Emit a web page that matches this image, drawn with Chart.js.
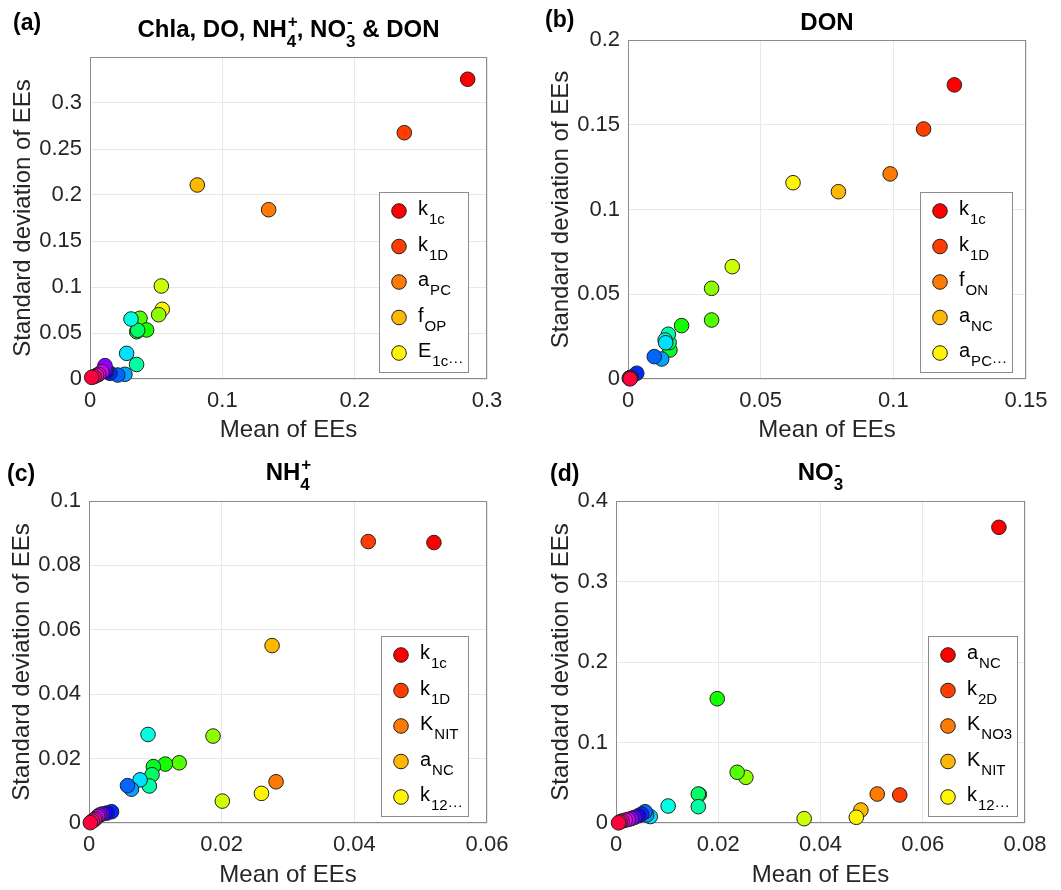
<!DOCTYPE html>
<html>
<head>
<meta charset="utf-8">
<script src="https://cdn.jsdelivr.net/npm/chart.js@4.4.1/dist/chart.umd.min.js"></script>
<style>
  body { margin: 0; background: #fff; }
  #wrap { position: relative; width: 1061px; height: 890px; overflow: hidden; }
  #wrap canvas { position: absolute; }
</style>
</head>
<body>
<div id="wrap"></div>
<script>
// ---- data, sorted by rank: index 0 = most influential ----
const meanA = [0.2854, 0.2375, 0.1350, 0.0811, 0.0546, 0.0539, 0.0519, 0.0378, 0.0428, 0.0353, 0.0360, 0.0352,
               0.0310, 0.0277, 0.0264, 0.0209, 0.0151, 0.0125, 0.0118, 0.0113, 0.0090, 0.0065, 0.0050, 0.0030, 0.0013];
const sdA   = [0.3258, 0.2677, 0.1840, 0.2109, 0.0757, 0.1011, 0.0699, 0.0660, 0.0533, 0.0514, 0.0530, 0.0158,
               0.0652, 0.0279, 0.0051, 0.0043, 0.0062, 0.0080, 0.0110, 0.0145, 0.0080, 0.0050, 0.0040, 0.0025, 0.0018];

const meanB = [0.1230, 0.1114, 0.0988, 0.0793, 0.0622, 0.0393, 0.0315, 0.0315, 0.0202, 0.0158, 0.0155, 0.0152,
               0.0140, 0.0142, 0.0127, 0.0099, 0.0033, 0.0012, 0.0010, 0.0009, 0.0008, 0.0007, 0.0006, 0.0005, 0.0008];
const sdB   = [0.1735, 0.1475, 0.1210, 0.1105, 0.1158, 0.0663, 0.0535, 0.0348, 0.0315, 0.0171, 0.0215, 0.0264,
               0.0230, 0.0214, 0.0118, 0.0132, 0.0034, 0.0010, 0.0009, 0.0008, 0.0007, 0.0006, 0.0005, 0.0004, 0.0001];

const meanC = [0.0520, 0.0421, 0.0282, 0.0276, 0.0260, 0.0201, 0.0187, 0.0136, 0.0115, 0.0097, 0.0095, 0.0091,
               0.0089, 0.0077, 0.0064, 0.0058, 0.0034, 0.0027, 0.0020, 0.0016, 0.0013, 0.0010, 0.0008, 0.0005, 0.0002];
const sdC   = [0.0871, 0.0874, 0.0128, 0.0551, 0.0092, 0.0068, 0.0270, 0.0187, 0.0183, 0.0175, 0.0150, 0.0115,
               0.0275, 0.0134, 0.0105, 0.0116, 0.0035, 0.0031, 0.0028, 0.0025, 0.0020, 0.0014, 0.0010, 0.0006, 0.0001];

const meanD = [0.0749, 0.0555, 0.0511, 0.0479, 0.0470, 0.0368, 0.0254, 0.0237, 0.0198, 0.0163, 0.0161, 0.0161,
               0.0102, 0.0067, 0.0060, 0.0057, 0.0050, 0.0044, 0.0036, 0.0030, 0.0024, 0.0018, 0.0012, 0.0008, 0.0005];
const sdD   = [0.3673, 0.0348, 0.0360, 0.0161, 0.0071, 0.0054, 0.0567, 0.0630, 0.1544, 0.0355, 0.0360, 0.0203,
               0.0211, 0.0080, 0.0100, 0.0140, 0.0110, 0.0090, 0.0070, 0.0055, 0.0045, 0.0035, 0.0025, 0.0015, 0.0002];

// tick labels
const xTicksA = [0, 0.1, 0.2, 0.3];
const yTicksA = [0, 0.05, 0.1, 0.15, 0.2, 0.25, 0.3];
const xTicksB = [0, 0.05, 0.1, 0.15];
const yTicksB = [0, 0.05, 0.1, 0.15, 0.2];
const xTicksC = [0, 0.02, 0.04, 0.06];
const yTicksC = [0, 0.02, 0.04, 0.06, 0.08, 0.1];
const xTicksD = [0, 0.02, 0.04, 0.06, 0.08];
const yTicksD = [0, 0.1, 0.2, 0.3, 0.4];

// legend entries (top 5 parameters); last one is truncated in the original
const legendA = ['k_1c', 'k_1D', 'a_PC', 'f_OP', 'E_1c'];
const legendB = ['k_1c', 'k_1D', 'f_ON', 'a_NC', 'a_PC'];
const legendC = ['k_1c', 'k_1D', 'K_NIT', 'a_NC', 'k_12'];
const legendD = ['a_NC', 'k_2D', 'K_NO3', 'K_NIT', 'k_12'];

const titleA = 'Chla, DO, NH_4^+, NO_3^- & DON';
const titleB = 'DON';
const titleC = 'NH_4^+';
const titleD = 'NO_3^-';

const xLabel = 'Mean of EEs';
const yLabel = 'Standard deviation of EEs';
const N_COLORS = 25;

// ---- layout ----
const FONT = "'Liberation Sans', Arial, Helvetica, sans-serif";
const INK = '#262626';
const panels = [
  { tag: '(a)', title: titleA, x: meanA, y: sdA, xt: xTicksA, yt: yTicksA, legend: legendA,
    left: 0, top: 0, w: 530, h: 445, area: { l: 90, r: 487, t: 57, b: 379 }, xMax: 0.3, yMax: 0.35,
    yTitlePad: 9, titleY: 37, tagX: 13, tagY: 30, legInset: 19 },
  { tag: '(b)', title: titleB, x: meanB, y: sdB, xt: xTicksB, yt: yTicksB, legend: legendB,
    left: 530, top: 0, w: 531, h: 445, area: { l: 98, r: 496, t: 40, b: 379 }, xMax: 0.15, yMax: 0.2,
    yTitlePad: 17, titleY: 30, tagX: 15, tagY: 27, legInset: 14 },
  { tag: '(c)', title: titleC, x: meanC, y: sdC, xt: xTicksC, yt: yTicksC, legend: legendC,
    left: 0, top: 440, w: 530, h: 450, area: { l: 89, r: 487, t: 61, b: 383 }, xMax: 0.06, yMax: 0.1,
    yTitlePad: 8, titleY: 40, tagX: 7, tagY: 41, legInset: 19 },
  { tag: '(d)', title: titleD, x: meanD, y: sdD, xt: xTicksD, yt: yTicksD, legend: legendD,
    left: 530, top: 440, w: 531, h: 450, area: { l: 86, r: 495, t: 61, b: 383 }, xMax: 0.08, yMax: 0.4,
    yTitlePad: 17, titleY: 40, tagX: 20, tagY: 41, legInset: 8 }
];

// MATLAB-style hsv colormap
function hsv(i, n) {
  const h = i / n * 6;
  const k = Math.floor(h), f = h - k;
  const rgb = [[1, f, 0], [1 - f, 1, 0], [0, 1, f], [0, 1 - f, 1], [f, 0, 1], [1, 0, 1 - f]][k % 6];
  return 'rgb(' + rgb.map(c => Math.round(c * 255)).join(',') + ')';
}
const fmt = v => String(parseFloat(v.toFixed(4)));

// parse "NH_4^+" style strings into runs
function parseRich(str) {
  const out = [];
  const re = /_(\w)\^([+-])/g;
  let last = 0, m;
  while ((m = re.exec(str)) !== null) {
    if (m.index > last) out.push({ t: str.slice(last, m.index) });
    out.push({ sub: m[1], sup: m[2] });
    last = re.lastIndex;
  }
  if (last < str.length) out.push({ t: str.slice(last) });
  return out;
}

function drawTitle(ctx, str, cx, base) {
  const big = 'bold 24px ' + FONT, small = 'bold 17px ' + FONT;
  const runs = parseRich(str);
  let total = 0;
  runs.forEach(r => {
    if (r.t !== undefined) { ctx.font = big; r.w = ctx.measureText(r.t).width; }
    else { ctx.font = small; r.w = Math.max(ctx.measureText(r.sub).width, ctx.measureText(r.sup).width); }
    total += r.w;
  });
  let x = cx - total / 2;
  ctx.textAlign = 'left';
  ctx.textBaseline = 'alphabetic';
  ctx.fillStyle = '#000';
  runs.forEach(r => {
    if (r.t !== undefined) { ctx.font = big; ctx.fillText(r.t, x, base); }
    else {
      ctx.font = small;
      ctx.fillText(r.sub, x, base + 10);
      ctx.fillText(r.sup, x + 1, base - 10);
    }
    x += r.w;
  });
}

function drawMarker(ctx, x, y, color) {
  ctx.beginPath();
  ctx.arc(x, y, 7.3, 0, Math.PI * 2);
  ctx.fillStyle = color;
  ctx.fill();
  ctx.lineWidth = 1;
  ctx.strokeStyle = '#222';
  ctx.stroke();
}

function drawLegend(ctx, p, area) {
  const main = '20px ' + FONT, sub = '15px ' + FONT;
  const items = p.legend.map((s, i) => {
    const [m, sb] = s.split('_');
    ctx.font = main; const wm = ctx.measureText(m).width;
    ctx.font = sub; const ws = ctx.measureText(sb + (i === p.legend.length - 1 ? '···' : '')).width;
    return { m, sb, wm, w: wm + ws + 1, dots: i === p.legend.length - 1 };
  });
  const textW = Math.max(...items.map(it => it.w));
  const boxW = Math.round(20 + 19 + textW + 5);
  const boxH = 180;
  const right = Math.round(area.right - p.legInset);
  const bottom = Math.round(area.bottom - 7);
  const left = right - boxW, top = bottom - boxH;
  ctx.fillStyle = '#fff';
  ctx.fillRect(left, top, boxW, boxH);
  ctx.strokeStyle = '#8c8c8c';
  ctx.lineWidth = 1;
  ctx.strokeRect(left + 0.5, top + 0.5, boxW, boxH);
  items.forEach((it, i) => {
    const cy = top + 19 + i * 35.5;
    drawMarker(ctx, left + 20, cy, hsv(i, N_COLORS));
    ctx.fillStyle = '#000';
    ctx.textAlign = 'left';
    ctx.textBaseline = 'alphabetic';
    const tx = left + 39;
    ctx.font = main; ctx.fillText(it.m, tx, cy + 4);
    ctx.font = sub; ctx.fillText(it.sb + (it.dots ? '···' : ''), tx + it.wm + 1, cy + 13);
  });
}

const decoPlugin = {
  id: 'deco',
  beforeDatasetsDraw(chart) {
    const { ctx, chartArea: a } = chart;
    ctx.save();
    ctx.strokeStyle = '#8c8c8c';
    ctx.lineWidth = 1;
    ctx.strokeRect(Math.round(a.left) + 0.5, Math.round(a.top) + 0.5,
                   Math.round(a.right - a.left) - 1, Math.round(a.bottom - a.top) - 1);
    ctx.restore();
  },
  afterDraw(chart) {
    const p = chart.options.plugins.deco.panel;
    const { ctx, chartArea: a } = chart;
    ctx.save();
    drawTitle(ctx, p.title, (a.left + a.right) / 2, p.titleY);
    ctx.font = 'bold 23px ' + FONT;
    ctx.fillStyle = '#000';
    ctx.textAlign = 'left';
    ctx.fillText(p.tag, p.tagX, p.tagY);
    drawLegend(ctx, p, a);
    ctx.restore();
  }
};

const wrap = document.getElementById('wrap');
panels.forEach(p => {
  const cv = document.createElement('canvas');
  cv.width = p.w; cv.height = p.h;
  cv.style.left = p.left + 'px'; cv.style.top = p.top + 'px';
  cv.style.width = p.w + 'px'; cv.style.height = p.h + 'px';
  wrap.appendChild(cv);

  const tickFont = { family: FONT, size: 22 };
  const titleFont = { family: FONT, size: 24 };

  new Chart(cv, {
    type: 'scatter',
    data: {
      datasets: [{
        data: p.x.map((v, i) => ({ x: v, y: p.y[i] })),
        backgroundColor: p.x.map((_, i) => hsv(i, N_COLORS)),
        borderColor: '#222',
        borderWidth: 1,
        pointRadius: 7.3,
        pointHoverRadius: 7.3,
        clip: false
      }]
    },
    options: {
      responsive: false,
      animation: false,
      events: [],
      layout: { padding: { top: p.area.t, left: 0, right: p.w - p.area.r, bottom: 0 } },
      scales: {
        x: {
          type: 'linear', min: 0, max: p.xMax,
          afterBuildTicks: s => { s.ticks = p.xt.map(v => ({ value: v })); },
          afterFit: s => { s.height = p.h - p.area.b; },
          grid: { color: '#e8e8e8', drawTicks: false },
          border: { display: false },
          ticks: { padding: 9, color: INK, font: tickFont, maxRotation: 0, autoSkip: false, callback: v => fmt(v) },
          title: { display: true, text: xLabel, color: INK, font: titleFont, padding: { top: 0, bottom: 0 } }
        },
        y: {
          type: 'linear', min: 0, max: p.yMax,
          afterBuildTicks: s => { s.ticks = p.yt.map(v => ({ value: v })); },
          afterFit: s => { s.width = p.area.l; },
          grid: { color: '#e8e8e8', drawTicks: false },
          border: { display: false },
          ticks: { padding: 8, color: INK, font: tickFont, autoSkip: false, callback: v => fmt(v) },
          title: { display: true, text: yLabel, color: INK, font: titleFont, padding: { top: p.yTitlePad, bottom: 0 } }
        }
      },
      plugins: {
        legend: { display: false },
        tooltip: { enabled: false },
        deco: { panel: p }
      }
    },
    plugins: [decoPlugin]
  });
});
</script>
</body>
</html>
